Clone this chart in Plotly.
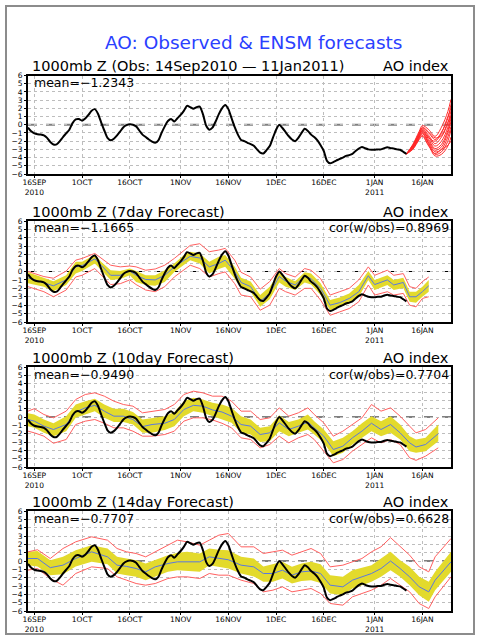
import pandas as pd
import plotly.graph_objects as go

BASE = pd.Timestamp('2010-09-14')

# ---------------- observed AO index (day offset from 14Sep2010) ----------------
obs_day = list(range(0, 120))
obs_val = [-0.35, -0.8, -1.05, -1.15, -1.2, -1.3, -1.6, -2.1, -2.4, -2.4,
           -2.0, -1.5, -1.05, -0.6, 0.2, 0.65, 0.7, 0.5, 0.75, 1.2,
           1.7, 1.9, 1.35, 0.3, -0.7, -1.6, -1.9, -1.7, -1.3, -0.8,
           -0.3, -0.05, 0.05, 0.0, -0.2, -0.7, -1.2, -1.5, -1.8, -2.05,
           -2.2, -1.9, -1.0, -0.2, 0.45, 0.7, 0.4, 0.8, 1.2, 1.7,
           2.3, 2.15, 1.95, 2.15, 2.2, 1.3, -0.1, -0.6, -0.35, 0.4,
           1.3, 2.0, 2.4, 1.9, 0.8, -0.3, -1.2, -1.85, -2.0, -2.2,
           -2.35, -2.55, -3.0, -3.4, -3.5, -3.1, -2.6, -1.6, -0.6, 0.0,
           -0.4, -0.9, -1.4, -1.8, -2.0, -1.6, -1.0, -0.5, -0.75, -1.2,
           -1.5, -1.9, -2.5, -3.2, -4.4, -4.7, -4.55, -4.35, -4.15, -4.0,
           -3.8, -3.7, -3.55, -3.2, -2.9, -2.7, -2.85, -3.0, -3.05, -3.05,
           -3.0, -3.0, -2.85, -2.75, -2.85, -2.9, -3.0, -3.05, -3.3, -3.55]

# ---------------- ensemble members from 11Jan2011 ----------------
ens_day = [119, 121, 123, 124, 126, 128, 130, 132, 133]
ens_members = [
    [-3.55, -2.4, -0.8, -0.1, -0.6, -1.4, -0.3, 1.6, 3.1],
    [-3.55, -2.5, -1.0, -0.4, -1.0, -1.8, -0.9, 0.8, 2.5],
    [-3.55, -2.6, -1.1, -0.5, -1.3, -2.3, -1.5, 0.2, 1.7],
    [-3.55, -2.6, -1.2, -0.6, -1.5, -2.6, -2.0, -0.3, 1.2],
    [-3.55, -2.7, -1.3, -0.7, -1.8, -2.9, -2.4, -0.7, 0.8],
    [-3.55, -2.8, -1.4, -0.9, -2.0, -3.1, -2.7, -1.0, 0.4],
    [-3.55, -2.8, -1.5, -1.0, -2.2, -3.3, -3.0, -1.5, -0.2],
    [-3.55, -2.9, -1.6, -1.1, -2.3, -3.6, -3.3, -2.0, -0.6],
    [-3.55, -2.9, -1.7, -1.3, -2.5, -3.8, -3.6, -2.6, -1.5],
    [-3.55, -3.0, -1.8, -1.4, -2.6, -3.5, -3.0, -2.5, -2.0],
    [-3.55, -2.5, -1.0, -0.3, -0.9, -1.6, -1.3, 0.3, 1.0],
    [-3.55, -2.7, -1.2, -0.8, -1.6, -2.0, -1.0, 1.0, 2.0],
]

# ---------------- 7-day forecast ----------------
f7_day = [0, 5, 8, 12, 15, 17, 21, 23, 26, 29, 32, 34, 37, 40, 43, 46, 49, 51, 54, 57,
          60, 62, 65, 67, 70, 73, 76, 79, 81, 84, 87, 89, 92, 95, 98, 101, 104, 107, 109,
          113, 115, 118, 120, 122, 124, 126]
f7_mean = [-0.75, -1.3, -1.7, -1.0, 0.55, 0.7, 1.5, 0.75, -0.45, -0.45, 0.05, -0.45, -0.95,
           -1.0, -0.45, 0.55, 1.35, 1.8, 1.6, 0.55, 0.95, 1.35, 0.0, -1.3, -1.8, -3.55, -2.6,
           -0.6, -1.15, -1.6, -0.6, -0.85, -2.0, -4.0, -3.7, -3.2, -2.4, -0.5, -1.55, -1.0,
           -1.6, -1.3, -3.0, -3.0, -2.4, -1.7]
f7_band_hi = [-0.1, -0.8, -1.15, -0.45, 1.15, 1.15, 2.0, 1.15, 0.15, 0.05, 0.35, 0.05, -0.45,
              -0.45, 0.15, 0.95, 1.95, 2.35, 2.15, 1.15, 1.75, 1.95, 0.55, -0.75, -1.2, -2.8,
              -1.8, -0.1, -0.65, -1.15, -0.1, -0.25, -1.4, -3.4, -3.1, -2.6, -1.6, 0.05, -1.0,
              -0.45, -1.0, -0.75, -2.4, -2.4, -1.8, -1.0]
f7_band_lo = [-1.4, -1.8, -2.35, -1.6, -0.25, 0.05, 0.95, 0.15, -1.0, -0.9, -0.45, -1.25, -1.6,
              -1.7, -1.25, -0.05, 0.75, 1.35, 0.95, -0.25, 0.3, 0.55, -0.85, -1.95, -2.4, -4.2,
              -3.3, -1.3, -1.8, -2.2, -1.3, -1.55, -2.8, -4.6, -4.2, -3.8, -3.0, -1.0, -2.2,
              -1.6, -2.2, -1.95, -3.6, -3.7, -3.0, -2.4]
f7_red_hi = [0.0, -0.6, -0.8, 0.05, 1.35, 1.55, 2.15, 1.55, 0.75, 0.55, 0.65, 0.55, 0.15, 0.3,
             0.75, 1.55, 2.55, 3.1, 3.3, 2.35, 2.55, 2.75, 1.35, -0.1, -0.65, -2.1, -1.2, 0.35,
             -0.25, -0.65, 0.35, 0.15, -0.85, -2.8, -2.4, -2.0, -1.0, 0.55, -0.45, 0.15, -0.45,
             -0.25, -1.8, -2.0, -1.2, -0.65]
f7_red_lo = [-1.8, -2.4, -3.0, -2.2, -0.65, -0.45, 0.35, -0.45, -1.55, -1.45, -1.0, -1.55, -2.2,
             -2.4, -1.8, -0.65, 0.15, 0.75, 0.35, -0.65, -0.25, -0.05, -1.45, -2.8, -3.0, -4.6,
             -4.0, -2.0, -2.4, -2.8, -2.0, -2.0, -3.4, -5.2, -4.8, -4.4, -3.6, -1.6, -2.8,
             -2.4, -2.8, -2.6, -4.0, -4.2, -3.2, -3.0]

# ---------------- 10-day forecast ----------------
f10_day = [0, 2, 5, 8, 12, 15, 18, 21, 24, 27, 30, 33, 36, 39, 43, 46, 49, 52, 55, 58, 61, 64,
           67, 70, 73, 76, 79, 82, 85, 88, 90, 93, 96, 99, 102, 105, 108, 111, 114, 117, 120,
           122, 125, 129]
f10_mean = [-0.3, -0.5, -1.1, -1.5, -0.9, 0.6, 1.1, 1.4, 0.7, 0.1, 0.1, -0.3, -1.15, -0.9,
            -0.75, -0.3, 0.9, 1.4, 1.3, 0.85, 0.6, 0.1, -0.9, -1.1, -2.1, -1.9, -0.7, -1.5,
            -1.1, -0.6, -1.3, -2.3, -3.9, -3.5, -2.5, -1.7, -0.75, -1.5, -0.9, -1.9, -3.1,
            -3.6, -3.3, -2.0]
f10_band_hi = [0.45, 0.3, -0.3, -0.75, 0.1, 1.5, 1.9, 2.2, 1.5, 1.0, 1.0, 0.6, -0.3, -0.1,
               0.1, 0.6, 1.9, 2.3, 2.1, 1.7, 1.5, 1.1, 0.1, -0.3, -1.3, -1.1, 0.2, -0.6, -0.3,
               0.3, -0.5, -1.5, -2.9, -2.5, -1.7, -0.75, 0.1, -0.5, 0.1, -0.9, -2.3, -2.7,
               -2.5, -0.9]
f10_band_lo = [-1.1, -1.3, -1.9, -2.3, -1.7, -0.1, 0.3, 0.7, -0.1, -0.6, -0.6, -0.9, -1.9,
               -1.9, -1.55, -1.1, 0.1, 0.7, 0.5, 0.1, -0.3, -0.7, -1.9, -2.1, -3.0, -2.9, -1.7,
               -2.3, -1.9, -1.5, -2.1, -3.1, -4.7, -4.3, -3.3, -2.5, -1.7, -2.3, -1.9, -2.7,
               -4.1, -4.3, -4.1, -2.9]
f10_red_hi = [0.7, 1.0, 0.3, -0.1, 0.7, 2.1, 2.7, 2.9, 2.5, 1.9, 1.5, 1.3, 0.5, 0.7, 0.9, 1.5,
              2.7, 3.1, 2.9, 2.5, 2.5, 1.9, 0.7, 0.7, -0.3, -0.1, 1.1, 0.1, 0.5, 1.1, 0.3, -0.7,
              -2.3, -1.7, -0.9, -0.1, 1.5, 0.7, 1.1, 0.1, -1.1, -1.9, -1.5, -0.1]
f10_red_lo = [-1.7, -1.9, -2.3, -3.15, -2.7, -0.9, -0.5, -0.3, -0.75, -1.3, -1.3, -1.7, -2.3,
              -2.3, -2.1, -1.7, -0.5, -0.1, -0.1, -0.35, -0.75, -1.3, -2.5, -2.7, -3.7, -3.3,
              -2.3, -3.1, -2.5, -2.1, -2.7, -4.1, -5.5, -5.1, -4.1, -3.3, -2.5, -3.1, -2.7,
              -3.3, -4.9, -5.2, -4.7, -3.7]

# ---------------- 14-day forecast ----------------
f14_day = [0, 3, 7, 11, 15, 20, 25, 28, 31, 34, 37, 40, 44, 47, 50, 54, 57, 60, 63, 67, 71,
           74, 77, 80, 83, 86, 89, 92, 95, 99, 102, 105, 108, 111, 114, 117, 120, 123, 126,
           128, 133]
f14_mean = [0.3, 0.3, -0.8, -0.5, 0.3, 1.1, 0.5, -0.5, -0.65, -0.9, -1.3, -0.7, -0.3, -0.1,
            -0.1, -0.1, 0.5, 0.3, 0.15, -0.5, -0.7, -1.5, -1.5, -1.1, -1.7, -1.3, -1.2, -1.5,
            -2.9, -3.1, -2.3, -1.9, -1.5, -0.9, 0.0, -0.9, -1.9, -3.1, -3.7, -2.3, -0.1]
f14_band_hi = [1.1, 1.2, 0.1, 0.5, 1.3, 1.9, 1.5, 0.5, 0.3, 0.1, -0.3, 0.1, 0.7, 1.0, 1.1,
               0.9, 1.5, 1.35, 1.3, 0.5, 0.3, -0.65, -0.4, -0.1, -0.7, -0.3, -0.1, -0.4,
               -1.7, -1.9, -1.1, -0.8, -0.5, 0.3, 1.1, 0.1, -0.7, -1.9, -2.5, -1.3, 1.1]
f14_band_lo = [-0.5, -0.65, -1.7, -1.6, -0.65, -0.1, -0.4, -1.5, -1.7, -1.9, -2.3, -1.85,
               -1.3, -1.1, -1.2, -1.3, -0.5, -0.7, -0.9, -1.5, -1.85, -2.5, -2.5, -2.1, -2.7,
               -2.4, -2.3, -2.65, -3.9, -4.1, -3.3, -2.9, -2.5, -1.9, -1.1, -1.9, -2.9, -4.1,
               -4.9, -3.5, -1.3]
f14_red_hi = [1.1, 1.35, 0.3, 1.5, 2.3, 2.9, 2.5, 1.5, 1.1, 0.9, 0.5, 1.1, 1.9, 2.5, 2.3,
              1.9, 2.5, 3.1, 3.3, 1.7, 1.7, 0.9, 1.1, 1.3, 0.7, 1.1, 1.5, 0.9, -0.7, -0.5,
              -0.1, 0.3, 1.1, 1.7, 2.8, 1.7, 0.7, -0.7, -1.3, 0.5, 2.7]
f14_red_lo = [-1.1, -0.9, -2.1, -2.9, -1.5, -0.7, -0.9, -1.9, -2.3, -2.7, -2.9, -2.7, -2.1,
              -1.9, -1.9, -2.1, -1.5, -1.7, -1.7, -2.3, -2.7, -3.7, -3.5, -3.1, -3.7, -3.5,
              -3.3, -3.9, -5.1, -5.3, -4.3, -3.9, -3.5, -2.9, -2.1, -2.9, -3.7, -5.1, -5.7,
              -4.3, -1.9]

# ---------------- text and ticks ----------------
tick_dates = ['2010-09-16', '2010-10-01', '2010-10-16', '2010-11-01', '2010-11-16',
              '2010-12-01', '2010-12-16', '2011-01-01', '2011-01-16']
tick_text = ['16SEP<br>2010', '1OCT', '16OCT', '1NOV', '16NOV', '1DEC', '16DEC',
             '1JAN<br>2011', '16JAN']
y_ticks = list(range(-6, 7))
y_text = [str(v).replace('-', '\u2212') for v in y_ticks]

main_title = 'AO: Observed & ENSM forecasts'
panel_titles = ['1000mb Z (Obs: 14Sep2010 \u2014 11Jan2011)', '1000mb Z (7day Forecast)',
                '1000mb Z (10day Forecast)', '1000mb Z (14day Forecast)']
right_titles = ['AO index'] * 4
mean_text = ['mean=\u22121.2343', 'mean=\u22121.1665', 'mean=\u22120.9490', 'mean=\u22120.7707']
cor_text = [None, 'cor(w/obs)=0.8969', 'cor(w/obs)=0.7704', 'cor(w/obs)=0.6628']

# ---------------- layout geometry (pixels) ----------------
W, H = 480, 640
X_LEFT, X_RIGHT = 28, 451
PANELS = [(75.5, 174), (221, 322), (367, 467), (511, 611)]

YELLOW = '#e3da2c'
BLUE = '#5a78e0'
RED = '#ff6060'
GRID = '#bdbdbd'
FONT = 'DejaVu Sans'


def dates(days):
    return [BASE + pd.Timedelta(days=int(d)) for d in days]


fig = go.Figure()

forecasts = [None,
             (f7_day, f7_mean, f7_band_lo, f7_band_hi, f7_red_lo, f7_red_hi),
             (f10_day, f10_mean, f10_band_lo, f10_band_hi, f10_red_lo, f10_red_hi),
             (f14_day, f14_mean, f14_band_lo, f14_band_hi, f14_red_lo, f14_red_hi)]

for i in range(4):
    s = '' if i == 0 else str(i + 1)
    xa, ya = 'x' + s, 'y' + s
    if i == 0:
        for m in ens_members:
            fig.add_trace(go.Scatter(x=dates(ens_day), y=m, mode='lines', xaxis=xa, yaxis=ya,
                                     line=dict(color='#ff2a2a', width=1, shape='spline'),
                                     showlegend=False, hoverinfo='skip'))
    else:
        d, mn, blo, bhi, rlo, rhi = forecasts[i]
        xd = dates(d)
        fig.add_trace(go.Scatter(x=xd, y=blo, mode='lines', xaxis=xa, yaxis=ya,
                                 line=dict(width=0, color=YELLOW), showlegend=False,
                                 hoverinfo='skip'))
        fig.add_trace(go.Scatter(x=xd, y=bhi, mode='lines', xaxis=xa, yaxis=ya,
                                 line=dict(width=0, color=YELLOW), fill='tonexty',
                                 fillcolor=YELLOW, showlegend=False, hoverinfo='skip'))
        for r in (rlo, rhi):
            fig.add_trace(go.Scatter(x=xd, y=r, mode='lines', xaxis=xa, yaxis=ya,
                                     line=dict(width=1, color=RED), showlegend=False,
                                     hoverinfo='skip'))
        fig.add_trace(go.Scatter(x=xd, y=mn, mode='lines', xaxis=xa, yaxis=ya,
                                 line=dict(width=1, color=BLUE), showlegend=False,
                                 hoverinfo='skip'))
    fig.add_trace(go.Scatter(x=dates(obs_day), y=obs_val, mode='lines', xaxis=xa, yaxis=ya,
                             line=dict(width=2, color='black', shape='spline', smoothing=0.6),
                             showlegend=False, hoverinfo='skip'))

layout = dict(width=W, height=H, margin=dict(l=0, r=0, t=0, b=0, autoexpand=False),
              paper_bgcolor='white', plot_bgcolor='white', showlegend=False,
              font=dict(family=FONT, color='black'))
annotations = []
shapes = []
for i, (top, bot) in enumerate(PANELS):
    s = '' if i == 0 else str(i + 1)
    layout['xaxis' + s] = dict(
        domain=[X_LEFT / W, X_RIGHT / W], anchor='y' + s, type='date',
        range=['2010-09-14', '2011-01-25'], tickmode='array', tickvals=tick_dates,
        ticktext=tick_text, ticks='outside', ticklen=2, tickcolor='black',
        ticklabelstandoff=-2,
        tickfont=dict(size=7.5, family=FONT), showline=True, linecolor='black',
        linewidth=2, mirror=True, showgrid=True, gridcolor=GRID, griddash='dot',
        gridwidth=1, zeroline=False, fixedrange=True)
    layout['yaxis' + s] = dict(
        domain=[1 - bot / H, 1 - top / H], anchor='x' + s, range=[-6, 6],
        tickmode='array', tickvals=y_ticks, ticktext=y_text, ticks='outside', ticklen=2,
        tickcolor='black', tickfont=dict(size=7.5, family=FONT), showline=True,
        linecolor='black', linewidth=2, mirror=True, showgrid=True, gridcolor=GRID,
        griddash='dot', gridwidth=1, zeroline=False, fixedrange=True)
    zcol, zw = ('#808080', 2) if i == 0 else ('black', 1)
    shapes.append(dict(type='line', xref='x' + s + ' domain', x0=0, x1=1, yref='y' + s,
                       y0=0, y1=0, line=dict(color=zcol, width=zw, dash='dash'), layer='below'))
    ty = 1 - (top - 9) / H
    annotations.append(dict(text=panel_titles[i], x=30 / W, y=ty, xref='paper', yref='paper',
                            xanchor='left', yanchor='middle', showarrow=False,
                            font=dict(size=14.5, family=FONT)))
    annotations.append(dict(text=right_titles[i], x=X_RIGHT / W, y=ty, xref='paper',
                            yref='paper', xanchor='right', yanchor='middle', showarrow=False,
                            font=dict(size=14.5, family=FONT)))
    my = 1 - (top + 7) / H
    annotations.append(dict(text=mean_text[i], x=32 / W, y=my, xref='paper', yref='paper',
                            xanchor='left', yanchor='middle', showarrow=False,
                            font=dict(size=12.5, family=FONT)))
    if cor_text[i]:
        annotations.append(dict(text=cor_text[i], x=X_RIGHT / W, y=my, xref='paper',
                                yref='paper', xanchor='right', yanchor='middle',
                                showarrow=False, font=dict(size=12.5, family=FONT)))

annotations.append(dict(text=main_title, x=253 / W, y=1 - 42 / H, xref='paper', yref='paper',
                        xanchor='center', yanchor='middle', showarrow=False,
                        font=dict(size=18.5, family=FONT, color='#2a40ff')))
shapes.append(dict(type='rect', xref='paper', yref='paper', x0=6 / W, x1=474 / W,
                   y0=1 - 634 / H, y1=1 - 6 / H, line=dict(color='#8c8c8c', width=2),
                   layer='below'))
layout['annotations'] = annotations
layout['shapes'] = shapes
fig.update_layout(**layout)
fig.write_html('out.html', config={'displayModeBar': False},
               post_script="document.body.style.margin='0px';"
                           "document.body.style.overflow='hidden';")
